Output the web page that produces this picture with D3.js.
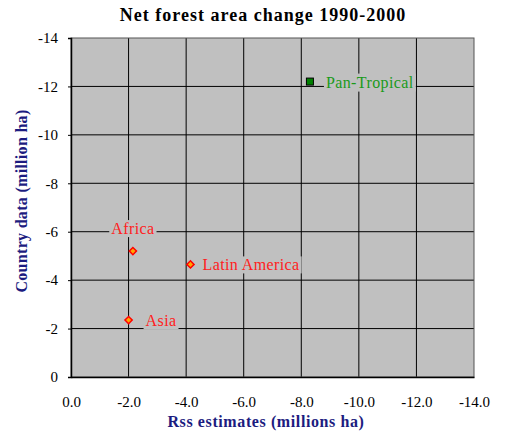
<!DOCTYPE html>
<html><head><meta charset="utf-8">
<script src="https://cdn.jsdelivr.net/npm/d3@7/dist/d3.min.js"></script>
<style>body{margin:0;background:#fff}</style>
</head><body>
<svg id="c" width="505" height="431"></svg>
<script>
const regions = ["Africa", "Latin America", "Asia", "Pan-Tropical"];
const rssValues = [-2.15, -4.15, -2.0, -8.3];
const countryValues = [-5.2, -4.65, -2.35, -12.2];
const xTicks = [0, -2, -4, -6, -8, -10, -12, -14];
const yTicks = [0, -2, -4, -6, -8, -10, -12, -14];

const svg = d3.select("#c");
const L = 71, R = 474, T = 38, B = 377;
const x = d3.scaleLinear().domain([0, -14]).range([L, R]);
const y = d3.scaleLinear().domain([0, -14]).range([B, T]);
const serif = "'Liberation Serif','Times New Roman',serif";
const hy = s => s.replace("\u2212", "-");

svg.append("rect").attr("x", L).attr("y", T).attr("width", R - L).attr("height", B - T)
  .attr("fill", "#c0c0c0");

// gridlines
svg.append("g").selectAll("line").data(xTicks.slice(1, -1)).join("line")
  .attr("x1", d => x(d)).attr("x2", d => x(d)).attr("y1", T).attr("y2", B)
  .attr("stroke", "#000").attr("stroke-width", 1);
svg.append("g").selectAll("line").data(yTicks.slice(1, -1)).join("line")
  .attr("y1", d => y(d)).attr("y2", d => y(d)).attr("x1", L).attr("x2", R)
  .attr("stroke", "#000").attr("stroke-width", 1);
svg.append("rect").attr("x", L).attr("y", T).attr("width", R - L).attr("height", B - T)
  .attr("fill", "none").attr("stroke", "#555").attr("stroke-width", 1);

// axes
const xAxis = svg.append("g").attr("transform", `translate(0,${B})`)
  .call(d3.axisBottom(x).tickValues(xTicks).tickFormat(d => d === 0 ? "0.0" : hy(d3.format(".1f")(d))).tickSize(0).tickPadding(19));
xAxis.select(".domain").attr("stroke", "#000").attr("stroke-width", 1.5);
xAxis.selectAll("text").attr("font-family", serif).attr("font-size", 15).attr("fill", "#000");

const yAxis = svg.append("g").attr("transform", `translate(${L},0)`)
  .call(d3.axisLeft(y).tickValues(yTicks).tickFormat(d => d === 0 ? "0" : hy(d3.format("d")(d))).tickSize(3).tickPadding(10));
yAxis.select(".domain").attr("stroke", "#000").attr("stroke-width", 1.5);
yAxis.selectAll(".tick line").attr("stroke", "#000");
yAxis.selectAll("text").attr("font-family", serif).attr("font-size", 15).attr("fill", "#000");

// titles
svg.append("text").attr("x", 263).attr("y", 21).attr("text-anchor", "middle")
  .attr("font-family", serif).attr("font-weight", "bold").attr("font-size", 18).attr("letter-spacing", 1)
  .text("Net forest area change 1990-2000");
svg.append("text").attr("x", 266).attr("y", 427).attr("text-anchor", "middle")
  .attr("font-family", serif).attr("font-weight", "bold").attr("font-size", 16).attr("letter-spacing", 0.6).attr("fill", "#1c1c80")
  .text("Rss estimates (millions ha)");
svg.append("text").attr("transform", "translate(27,201) rotate(-90)").attr("text-anchor", "middle")
  .attr("font-family", serif).attr("font-weight", "bold").attr("font-size", 16).attr("letter-spacing", 0.3).attr("fill", "#1c1c80")
  .text("Country data (million ha)");

// labels
const labelPos = [
  {dx: 0, dy: -17, anchor: "middle", color: "#ff2020"},
  {dx: 12, dy: 6, anchor: "start", color: "#ff2020"},
  {dx: 17, dy: 6, anchor: "start", color: "#ff2020"},
  {dx: 16, dy: 6, anchor: "start", color: "#1a9a1a"}
];
const lg = svg.append("g");
regions.forEach((r, i) => {
  const p = labelPos[i];
  const t = lg.append("text").attr("x", x(rssValues[i]) + p.dx).attr("y", y(countryValues[i]) + p.dy)
    .attr("text-anchor", p.anchor).attr("font-family", serif).attr("font-size", 16).attr("letter-spacing", 0.4)
    .attr("fill", p.color).text(r);
  const bb = t.node().getBBox();
  lg.insert("rect", "text").attr("x", bb.x - 2).attr("y", bb.y).attr("width", bb.width + 4).attr("height", bb.height)
    .attr("fill", "#c0c0c0");
});

// markers
const sym = d3.symbol().type(d3.symbolSquare).size(26);
svg.append("g").selectAll("path").data(regions.slice(0, 3)).join("path")
  .attr("transform", (d, i) => `translate(${x(rssValues[i])},${y(countryValues[i])}) rotate(45)`)
  .attr("d", sym).attr("fill", "#ffa500").attr("stroke", "#ff0000").attr("stroke-width", 1.5);
svg.append("g").selectAll("rect").data(regions.slice(3)).join("rect")
  .attr("x", (d, i) => x(rssValues[3 + i]) - 3.5).attr("y", (d, i) => y(countryValues[3 + i]) - 3.5)
  .attr("width", 7).attr("height", 7).attr("fill", "#008000").attr("stroke", "#000").attr("stroke-width", 1);
</script>
</body></html>
